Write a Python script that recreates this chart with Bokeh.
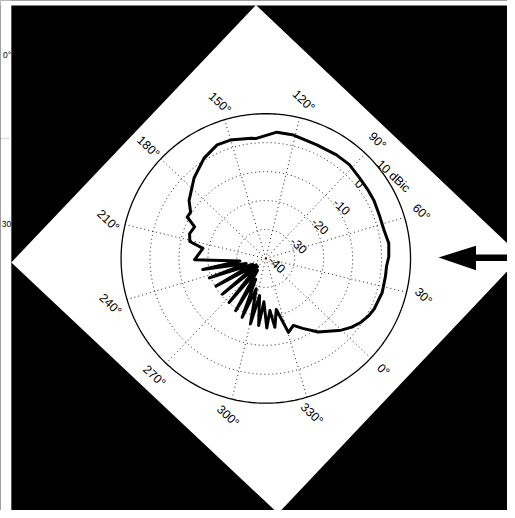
import numpy as np
from bokeh.plotting import figure
from bokeh.models import Range1d
from bokeh.embed import file_html
from bokeh.resources import INLINE
from bokeh.core.properties import value

# ---------------- data ----------------
# pattern: azimuth (deg, as labelled on the polar grid) and gain (dBic)
pattern_deg = [0.0, 4.9, 9.7, 14.5, 18.5, 27.2, 35.1, 39.8, 44.4, 50.5,
               56.9, 65.0, 71.6, 77.7, 84.3, 91.8, 99.2, 109.3, 120.8, 128.5,
               138.0, 140.5, 150.2, 156.7, 165.1, 175.1, 186.5, 191.9, 195.7, 199.6,
               205.4, 210.9, 214.4, 224.5, 229.0, 233.5, 238.0, 242.5, 247.5, 252.5,
               257.5, 263.0, 268.0, 273.7, 278.5, 283.5, 287.5, 291.6, 296.0, 300.3,
               304.0, 307.4, 311.0, 314.3, 318.0, 321.0, 325.1, 330.5, 335.9, 341.3,
               349.0]
pattern_dbic = [-4.0, -2.0, -0.4, 0.7, 1.3, 1.9, 1.8, 1.8, 2.5, 2.8,
                2.0, 2.0, 2.4, 2.5, 2.7, 3.4, 3.3, 3.0, 3.7, 3.8,
                1.6, 1.8, 2.7, 2.7, 0.7, -2.7, -6.8, -9.5, -9.3, -13.1,
                -12.3, -13.1, -18.0, -15.4, -31.0, -17.9, -33.0, -19.4, -35.0, -20.3,
                -36.0, -20.6, -36.0, -20.2, -35.0, -19.2, -32.0, -18.1, -29.0, -16.8,
                -27.0, -16.7, -25.0, -16.0, -22.0, -16.0, -22.0, -13.3, -15.0, -12.7,
                -8.8]

ring_values = [-40, -30, -20, -10, 0, 10]
ring_labels = ["-40", "-30", "-20", "-10", "0", "10 dBic"]
spoke_deg = [0, 30, 60, 90, 120, 150, 180, 210, 240, 270, 300, 330]
spoke_labels = ["0°", "30°", "60°", "90°", "120°", "150°",
                "180°", "210°", "240°", "270°", "300°", "330°"]
# fragments of the neighbouring figure visible at the far left edge
edge_labels = ["0°", "30"]

# ---------------- geometry / style constants (reference pixels) ----------------
R_MIN, R_MAX = -40, 10
PX_PER_DB = 2.94          # reference px per dB
ROT = -43.5               # whole chart is turned clockwise
LABEL_R = 1.12            # angle labels at this fraction of outer radius
RING_LABEL_ANG = 85.3     # direction (in chart degrees) of ring labels
RING_LABEL_SHIFT = (5.0, 0.0)
FONT = value("Liberation Sans")
FS = "12.3px"

W, H = 507, 510           # figure size; reference picture is 515 x 518
REF_W, REF_H = 515, 518
OX, OY = 269.5, 262       # polar centre in reference pixels


def to_xy(theta_deg, db):
    r = (np.asarray(db, dtype=float) - R_MIN) * PX_PER_DB
    a = np.radians(np.asarray(theta_deg, dtype=float) + ROT)
    return r * np.cos(a), r * np.sin(a)


def pg(px, py):
    """reference pixel -> data coordinates"""
    return np.asarray(px, dtype=float) - OX, OY - np.asarray(py, dtype=float)


p = figure(width=W, height=H, output_backend="svg", toolbar_location=None,
           x_range=Range1d(-OX, REF_W - OX), y_range=Range1d(OY - REF_H, OY),
           min_border=0, outline_line_color=None,
           background_fill_color="black", border_fill_color="black")
p.axis.visible = False
p.grid.visible = False

# white strips on the far left and top
lx, ty = pg([0, 11], [0, 5])
p.quad(left=lx[0], right=lx[1], bottom=OY - REF_H, top=OY, fill_color="white", line_color=None)
p.quad(left=lx[0], right=REF_W - OX, bottom=ty[1], top=ty[0], fill_color="white", line_color=None)
ex, ey = pg([10.8, 10.8], [55, 227])
p.text(ex, ey, text=edge_labels, text_align="right", text_baseline="middle",
       text_font=FONT, text_font_size="8.5px", text_color="black")
fx, fy = pg([1, 9], [140, 140])
p.line(fx, fy, line_color="#888888", line_width=1, line_dash="1 2")

# white rotated sheet (diamond)
dx, dy = pg([11, 259.5, 529, 282], [266, 4.5, 260, 521])
p.patch(dx, dy, fill_color="white", line_color=None)

# arrow on the right
ax, ay = pg([445, 483, 483, 530, 530, 483, 483], [261, 249, 258, 258, 264.5, 264.5, 274])
p.patch(ax, ay, fill_color="black", line_color=None)

R_OUT = (R_MAX - R_MIN) * PX_PER_DB
t = np.linspace(0, 360, 361)

# dotted rings
for v in ring_values[1:-1]:
    x, y = to_xy(t, np.full_like(t, v))
    p.line(x, y, line_color="#222222", line_width=1, line_dash="1 3")
# dotted spokes
for d in spoke_deg:
    x, y = to_xy([d, d], [R_MIN, R_MAX])
    p.line(x, y, line_color="#222222", line_width=1, line_dash="1 3")
# solid outer ring
x, y = to_xy(t, np.full_like(t, R_MAX))
p.line(x, y, line_color="black", line_width=1.3)

# pattern curve
cx, cy = to_xy(pattern_deg + pattern_deg[:1], pattern_dbic + pattern_dbic[:1])
p.line(cx, cy, line_color="black", line_width=3.0, line_join="round")

# angle labels
la = np.radians(np.array(spoke_deg) + ROT)
p.text(LABEL_R * R_OUT * np.cos(la), LABEL_R * R_OUT * np.sin(la), text=spoke_labels,
       angle=np.radians(ROT), text_align="center", text_baseline="middle",
       text_font=FONT, text_font_size=FS, text_color="black")

# ring labels
rx, ry = to_xy([RING_LABEL_ANG] * len(ring_values), ring_values)
p.text(rx + RING_LABEL_SHIFT[0], ry + RING_LABEL_SHIFT[1], text=ring_labels,
       angle=np.radians(ROT), text_align="left", text_baseline="middle",
       text_font=FONT, text_font_size=FS, text_color="black")

open("out.html", "w").write(file_html(p, INLINE))
